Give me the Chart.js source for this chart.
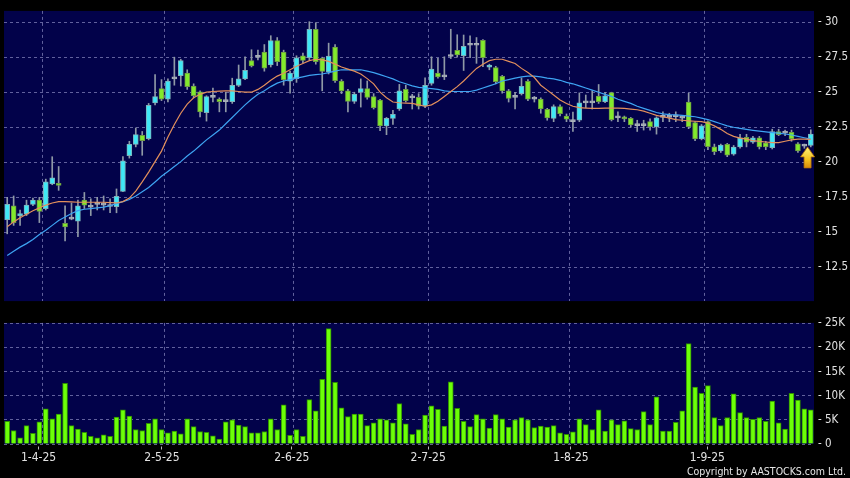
<!DOCTYPE html>
<html><head><meta charset="utf-8">
<script src="https://cdn.jsdelivr.net/npm/chart.js@4.4.1/dist/chart.umd.min.js"></script>
<style>
html,body{margin:0;padding:0;background:#000;width:850px;height:478px;overflow:hidden}
#c1{position:absolute;left:0;top:0}
#c2{position:absolute;left:0;top:312px}
#copy{position:absolute;right:4px;top:465px;color:#e6e6e6;font-size:10.5px;line-height:12px;font-family:'DejaVu Sans Condensed','DejaVu Sans',sans-serif;white-space:nowrap}
</style></head><body>
<canvas id="c1" width="850" height="312"></canvas>
<canvas id="c2" width="850" height="166"></canvas>
<div id="copy">Copyright by AASTOCKS.com Ltd.</div>
<script>
const monthIndex = [5,24,44,65,87,108];
const monthLabels = ['1-4-25','2-5-25','2-6-25','2-7-25','1-8-25','1-9-25'];
const priceTicks = [12.5,15,17.5,20,22.5,25,27.5,30];
const volTicks = [0,5,10,15,20,25];

const open = [15.9,16.9,16.2,16.3,17.0,17.3,16.7,18.45,18.45,15.65,
15.95,15.8,17.3,16.8,17.0,16.95,16.85,16.83,17.92,20.47,
21.28,21.92,21.69,24.24,25.26,24.51,25.95,26.18,26.37,25.44,
25.03,23.54,24.63,24.51,24.33,24.33,25.49,25.95,27.25,27.48,
27.87,26.94,28.68,27.87,25.79,25.97,27.6,27.46,29.49,27.41,
26.44,28.22,25.79,25.1,24.35,24.98,25.26,24.68,24.44,22.6,
23.13,23.8,25.2,24.6,24.63,24.0,25.63,26.37,26.09,27.55,
27.99,27.6,28.35,28.35,28.7,26.78,26.76,26.14,25.1,24.63,
24.9,25.78,24.51,24.51,23.78,23.13,23.97,23.3,22.9,23.0,
24.24,24.24,24.72,24.33,24.97,23.17,23.2,23.13,22.62,22.62,
22.9,22.53,23.2,23.2,23.25,23.15,24.29,22.83,21.67,22.9,
21.11,20.81,21.28,20.58,21.09,21.79,21.44,21.74,21.39,21.04,
22.2,22.08,22.13,21.32,21.16,21.2];
const high = [17.5,17.6,16.6,17.3,17.45,17.5,18.8,20.4,19.7,16.9,
17.1,17.3,17.85,17.4,17.5,17.6,17.4,18.1,20.4,21.5,
22.45,22.2,24.2,26.25,25.9,25.95,27.5,27.35,26.6,25.6,
25.1,24.75,25.3,24.6,25.0,26.0,26.94,27.53,28.03,28.0,
28.4,29.03,28.9,28.0,26.5,27.6,27.8,30.03,29.96,27.5,
28.5,28.4,25.9,25.2,25.0,25.95,25.8,24.9,24.5,23.2,
23.7,25.56,25.5,24.85,24.9,26.02,27.53,27.41,27.53,29.49,
29.1,29.08,29.03,28.9,28.75,27.0,26.85,26.2,25.2,25.0,
26.02,25.9,24.7,24.6,23.85,24.1,24.1,23.45,23.59,24.95,
24.8,25.1,25.55,25.0,25.0,23.6,23.3,23.2,23.0,23.0,
23.1,23.25,23.6,23.5,23.6,23.35,24.93,22.9,22.7,22.95,
21.3,21.3,21.35,21.2,22.0,22.0,21.85,21.85,21.5,22.36,
22.36,22.3,22.3,21.4,21.3,22.32];
const low = [14.9,15.5,15.5,16.2,16.9,15.7,16.6,18.4,18.0,14.4,
15.9,14.7,16.7,16.2,16.6,16.6,16.4,16.4,17.9,20.3,
21.1,20.5,21.6,24.1,24.4,24.3,25.5,25.44,25.2,24.6,
23.24,22.94,24.3,23.6,23.6,24.2,25.4,25.9,26.8,27.3,
26.5,26.8,26.9,25.5,24.93,25.7,27.1,27.3,27.0,25.1,
26.3,25.7,24.9,23.59,24.2,23.94,24.5,23.8,22.25,21.97,
22.7,23.7,24.3,23.8,23.8,23.9,25.5,26.0,25.9,27.4,
27.5,26.55,27.46,27.06,26.83,26.6,25.6,24.93,24.3,23.8,
24.8,24.4,24.3,23.5,23.0,22.9,23.3,22.9,22.2,22.9,
23.9,23.8,24.2,24.25,22.95,22.9,22.9,22.5,22.2,22.3,
22.3,22.01,22.9,22.9,22.9,22.9,22.4,21.55,21.6,20.9,
20.55,20.7,20.4,20.5,21.0,21.1,21.35,20.95,20.9,20.95,
21.9,21.9,21.5,20.7,21.0,21.1];
const close = [17.0,15.7,16.35,16.95,17.3,16.5,18.6,18.9,18.35,15.4,
15.95,16.9,16.95,16.8,17.0,16.95,16.85,17.57,20.1,21.28,
21.97,21.55,24.06,24.68,24.51,25.79,25.95,27.25,25.4,24.75,
23.59,24.68,24.63,24.33,24.33,25.49,25.95,26.56,26.88,27.48,
26.72,28.68,27.18,25.9,26.37,27.46,27.27,29.49,27.18,26.49,
27.57,25.83,25.1,24.35,24.86,25.26,24.63,23.89,22.6,23.13,
23.43,25.1,24.4,24.6,24.0,25.49,26.65,26.09,26.09,27.55,
27.66,28.28,28.35,28.35,27.47,26.94,25.76,25.1,24.56,24.63,
25.42,24.5,24.51,23.8,23.17,23.97,23.47,23.07,22.9,24.25,
24.24,24.24,24.33,24.75,23.05,23.17,23.1,22.67,22.62,22.62,
22.55,23.17,23.2,23.2,23.25,23.15,22.55,21.67,22.6,21.11,
20.76,21.23,20.51,21.09,21.74,21.44,21.74,21.09,21.09,22.2,
21.97,22.08,21.67,20.81,21.16,22.01];
const maShort = [15.4,15.75,16.05,16.3,16.55,16.75,16.95,17.1,17.2,17.2,
17.18,17.15,17.15,17.15,17.15,17.15,17.12,17.1,17.2,17.45,
17.95,18.6,19.3,20.05,20.8,21.8,22.7,23.5,24.15,24.6,
24.85,25.0,25.05,25.08,25.1,25.1,25.05,25.0,25.0,25.2,
25.5,25.85,26.15,26.35,26.6,26.85,27.05,27.25,27.35,27.3,
27.2,27.0,26.8,26.65,26.5,26.3,25.97,25.6,25.0,24.6,
24.3,24.25,24.22,24.2,24.1,24.0,24.1,24.35,24.7,25.05,
25.4,25.8,26.25,26.7,27.0,27.25,27.35,27.35,27.2,27.05,
26.7,26.4,26.05,25.5,25.15,24.8,24.45,24.2,24.0,23.9,
23.87,23.85,23.85,23.87,23.87,23.87,23.85,23.8,23.75,23.65,
23.5,23.35,23.25,23.15,23.05,23.0,22.95,22.93,22.9,22.8,
22.6,22.35,22.05,21.85,21.72,21.65,21.55,21.5,21.45,21.4,
21.4,21.5,21.6,21.65,21.65,21.63];
const maLong = [13.35,13.65,13.95,14.2,14.5,14.85,15.15,15.5,15.85,16.1,
16.35,16.55,16.65,16.7,16.75,16.8,16.9,17.05,17.2,17.35,
17.6,17.9,18.2,18.6,19.0,19.35,19.7,20.05,20.45,20.8,
21.2,21.6,21.95,22.3,22.75,23.2,23.65,24.1,24.5,24.85,
25.1,25.4,25.65,25.8,25.9,26.0,26.1,26.2,26.25,26.3,
26.4,26.5,26.6,26.6,26.6,26.6,26.5,26.4,26.25,26.1,
25.95,25.75,25.6,25.45,25.35,25.3,25.25,25.2,25.1,25.05,
25.05,25.05,25.05,25.15,25.3,25.45,25.6,25.8,25.9,26.0,
26.1,26.15,26.15,26.1,26.0,25.95,25.85,25.7,25.6,25.45,
25.3,25.15,25.0,24.85,24.7,24.5,24.35,24.2,24.0,23.85,
23.7,23.55,23.45,23.4,23.38,23.35,23.3,23.25,23.15,23.05,
22.9,22.75,22.6,22.5,22.42,22.35,22.28,22.22,22.17,22.12,
22.08,22.02,21.95,21.85,21.75,21.65];
const volume = [4.7,2.8,1.3,3.8,2.2,4.6,7.3,5.2,6.2,12.6,
3.8,3.1,2.4,1.6,1.3,1.9,1.6,5.6,7.1,5.8,
3.0,2.8,4.3,5.2,3.0,2.3,2.7,2.1,5.2,3.6,
2.6,2.4,1.7,1.0,4.6,5.0,3.9,3.6,2.3,2.3,
2.6,5.2,3.0,8.1,1.8,3.0,1.6,9.2,6.9,13.4,
23.9,12.8,7.5,5.7,6.2,6.2,3.8,4.4,5.2,5.0,
4.4,8.4,4.2,2.0,3.0,6.0,7.9,7.2,3.7,12.9,
7.4,4.7,3.6,6.1,5.2,3.3,6.1,5.2,3.5,5.0,
5.5,5.0,3.4,3.7,3.5,3.8,2.3,2.0,2.5,5.2,
4.0,3.0,7.1,2.7,5.0,4.0,4.8,3.2,3.0,6.7,
4.0,9.8,2.7,2.7,4.5,6.9,20.8,11.8,10.5,12.1,
5.5,3.8,5.5,10.4,6.5,5.5,5.1,5.5,4.7,8.9,
4.4,3.1,10.5,9.1,7.3,7.1];

const N = close.length;
const idx = close.map((_, i) => i);
const FONT = "'DejaVu Sans Condensed','DejaVu Sans',sans-serif";
const GRID = 'rgba(130,130,185,0.75)';
const LABEL = '#e2e2e2';
const UP = '#3fe8f6', DOWN = '#82ea2c', FLAT = '#a9b1b9';
const UPB = '#7fb2ba', DOWNB = '#6d9a44', FLATB = '#a9b1b9';
const kind = i => close[i] > open[i] ? 1 : (close[i] < open[i] ? -1 : 0);

const bgPlugin = { id: 'bg', beforeDraw(chart) {
  const { ctx, chartArea: a } = chart;
  ctx.save(); ctx.fillStyle = '#02024a';
  ctx.fillRect(a.left, a.top, a.right - a.left, a.bottom - a.top); ctx.restore();
}};
const arrowPlugin = { id: 'arrow', afterDatasetsDraw(chart) {
  const { ctx } = chart; const xs = chart.scales.x, ys = chart.scales.y;
  const cx = xs.getPixelForValue(N - 1.5);
  const tip = ys.getPixelForValue(low[N - 1]);
  const g = ctx.createLinearGradient(0, tip, 0, tip + 21);
  g.addColorStop(0, '#fff27a'); g.addColorStop(0.6, '#f4c21e'); g.addColorStop(1, '#d88a0c');
  ctx.save();
  ctx.beginPath();
  ctx.moveTo(cx, tip); ctx.lineTo(cx + 7, tip + 10); ctx.lineTo(cx + 3.5, tip + 10);
  ctx.lineTo(cx + 3.5, tip + 21); ctx.lineTo(cx - 3.5, tip + 21); ctx.lineTo(cx - 3.5, tip + 10);
  ctx.lineTo(cx - 7, tip + 10); ctx.closePath();
  ctx.fillStyle = g; ctx.fill();
  ctx.strokeStyle = '#b8740a'; ctx.lineWidth = 0.8; ctx.stroke();
  ctx.restore();
}};

const monthGridAxis = () => ({ type: 'linear', min: -0.5, max: N - 0.5, offset: false,
  afterBuildTicks: s => { s.ticks = monthIndex.map(v => ({ value: v + 0.5 })); },
  ticks: { display: false },
  grid: { color: GRID, drawTicks: false, offset: false },
  border: { display: false, dash: [3, 3] },
  afterFit: s => { s.height = 0; } });

new Chart(document.getElementById('c1'), {
  type: 'bar',
  data: { datasets: [
    { type: 'line', data: idx.map(i => ({ x: i, y: maShort[i] })), borderColor: '#e3905c', borderWidth: 1.2, pointRadius: 0, tension: 0, order: 0 },
    { type: 'line', data: idx.map(i => ({ x: i, y: maLong[i] })), borderColor: '#3ea4f2', borderWidth: 1.2, pointRadius: 0, tension: 0, order: 0 },
    { type: 'bar', data: idx.map(i => ({ x: i, y: [open[i], close[i]] })),
      backgroundColor: idx.map(i => kind(i) > 0 ? UP : kind(i) < 0 ? DOWN : FLAT),
      borderColor: idx.map(i => kind(i) > 0 ? UPB : kind(i) < 0 ? DOWNB : FLATB),
      borderWidth: 1, borderSkipped: false, barThickness: 5, minBarLength: 2, grouped: false, order: 1 },
    { type: 'bar', data: idx.map(i => ({ x: i, y: [low[i], high[i]] })),
      backgroundColor: '#8f99a6', barThickness: 1, grouped: false, order: 2 }
  ]},
  options: {
    responsive: false, animation: false, events: [],
    layout: { padding: { left: 4, top: 6, right: 0, bottom: 6 } },
    plugins: { legend: { display: false }, tooltip: { enabled: false } },
    scales: {
      x: monthGridAxis(),
      y: { position: 'right', min: 10.1, max: 30.8,
        afterBuildTicks: s => { s.ticks = priceTicks.map(v => ({ value: v })); },
        ticks: { callback: v => '- ' + v, color: LABEL, padding: 4, font: { family: FONT, size: 11.5 } },
        grid: { color: GRID, drawTicks: false },
        border: { display: false, dash: [3, 3] },
        afterFit: s => { s.width = 36; } }
    }
  },
  plugins: [bgPlugin, arrowPlugin]
});

new Chart(document.getElementById('c2'), {
  type: 'bar',
  data: { datasets: [
    { data: idx.map(i => ({ x: i, y: volume[i] })), backgroundColor: '#6cff08', borderColor: '#2f8f00',
      borderWidth: 1, barThickness: 5, grouped: false }
  ]},
  options: {
    responsive: false, animation: false, events: [],
    layout: { padding: { left: 4, top: 7, right: 0, bottom: 0 } },
    plugins: { legend: { display: false }, tooltip: { enabled: false } },
    scales: {
      x: monthGridAxis(),
      xl: { type: 'linear', position: 'bottom', min: -0.329, max: 124.43, offset: false,
        afterBuildTicks: s => { s.ticks = monthIndex.map(v => ({ value: v })); },
        ticks: { autoSkip: false, maxRotation: 0, color: LABEL, padding: 1,
          font: { family: FONT, size: 12 },
          callback: (v, k) => monthLabels[k] },
        grid: { drawOnChartArea: false, drawTicks: true, offset: false, tickLength: 6, tickColor: '#b8b8b8', tickBorderDash: [0, 2.5, 3, 20] },
        border: { display: false },
        afterFit: s => { s.height = 34; } },
      y: { position: 'right', min: 0, max: 25.1,
        afterBuildTicks: s => { s.ticks = volTicks.map(v => ({ value: v })); },
        ticks: { callback: v => '- ' + (v === 0 ? '0' : v + 'K'), color: LABEL, padding: 4, font: { family: FONT, size: 11.5 } },
        grid: { color: GRID, drawTicks: false },
        border: { display: false, dash: [3, 3] },
        afterFit: s => { s.width = 36; } }
    }
  },
  plugins: [bgPlugin]
});
</script>
</body></html>
